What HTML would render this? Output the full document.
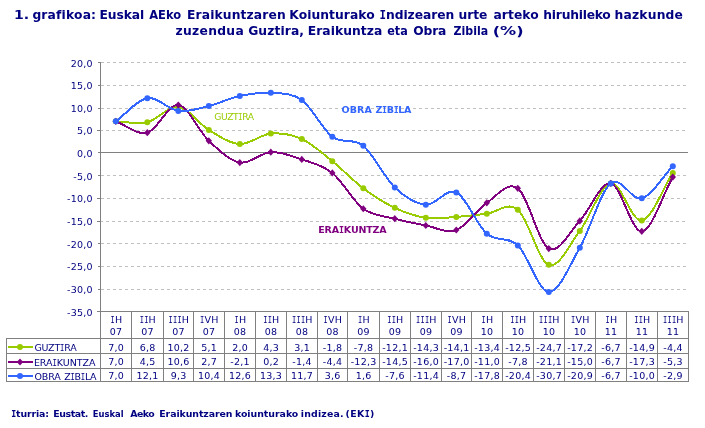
<!DOCTYPE html>
<html lang="eu"><head><meta charset="utf-8"><title>1. grafikoa</title>
<style>html,body{margin:0;padding:0;background:#fff}svg{display:block}text{font-family:"DejaVu Sans","Liberation Sans",sans-serif;fill:#000080}</style>
</head><body>
<svg width="705" height="428" viewBox="0 0 705 428">
<rect width="705" height="428" fill="#ffffff"/>
<g font-weight="bold" font-size="12.3px">
<text y="19"><tspan x="13.91" textLength="15.17" lengthAdjust="spacingAndGlyphs">1.</tspan> <tspan x="32.40" letter-spacing="0.175">grafikoa:</tspan> <tspan x="99.45" letter-spacing="-0.070">Euskal</tspan> <tspan x="149.20" textLength="31.90" lengthAdjust="spacingAndGlyphs">AEko</tspan> <tspan x="187.05" letter-spacing="0.125">Eraikuntzaren</tspan> <tspan x="289.35" letter-spacing="0.050">Koiunturako</tspan> <tspan x="379.50" letter-spacing="-0.061"><tspan font-family='"DejaVu Sans Mono","Liberation Mono",monospace' textLength="6.46" lengthAdjust="spacingAndGlyphs">I</tspan>ndizearen</tspan> <tspan x="458.60" letter-spacing="-0.067">urte</tspan> <tspan x="493.50" letter-spacing="0.050">arteko</tspan> <tspan x="543.30" letter-spacing="-0.233">hiruhileko</tspan> <tspan x="614.60" letter-spacing="0.186">hazkunde</tspan></text>
<text y="35"><tspan x="175.60" letter-spacing="0.300">zuzendua</tspan> <tspan x="248.20" letter-spacing="0.093">Guztira,</tspan> <tspan x="307.75" letter-spacing="0.061">Eraikuntza</tspan> <tspan x="387.23" textLength="20.53" lengthAdjust="spacingAndGlyphs">eta</tspan> <tspan x="413.15" letter-spacing="-0.133">Obra</tspan> <tspan x="453.55" textLength="34.60" lengthAdjust="spacingAndGlyphs">Zibila</tspan> <tspan x="492.69" textLength="30.82" lengthAdjust="spacingAndGlyphs">(%)</tspan></text>
</g>
<g shape-rendering="crispEdges" stroke-width="1" fill="none">
<line x1="101" x2="688" y1="62.5" y2="62.5" stroke="#c0c0c0" stroke-dasharray="3 3"/>
<line x1="101" x2="688" y1="85.5" y2="85.5" stroke="#c0c0c0" stroke-dasharray="3 3"/>
<line x1="101" x2="688" y1="108.5" y2="108.5" stroke="#c0c0c0" stroke-dasharray="3 3"/>
<line x1="100" x2="688" y1="130.5" y2="130.5" stroke="#c0c0c0" stroke-dasharray="3 3"/>
<line x1="101" x2="688" y1="175.5" y2="175.5" stroke="#c0c0c0" stroke-dasharray="3 3"/>
<line x1="101" x2="688" y1="198.5" y2="198.5" stroke="#c0c0c0" stroke-dasharray="3 3"/>
<line x1="100" x2="688" y1="221.5" y2="221.5" stroke="#c0c0c0" stroke-dasharray="3 3"/>
<line x1="101" x2="688" y1="243.5" y2="243.5" stroke="#c0c0c0" stroke-dasharray="3 3"/>
<line x1="101" x2="688" y1="266.5" y2="266.5" stroke="#c0c0c0" stroke-dasharray="3 3"/>
<line x1="101" x2="688" y1="289.5" y2="289.5" stroke="#c0c0c0" stroke-dasharray="3 3"/>
<line x1="98" x2="688" y1="152.5" y2="152.5" stroke="#808080"/>
<line x1="100.5" x2="100.5" y1="62" y2="382" stroke="#808080"/>
<line x1="98" x2="101" y1="62.5" y2="62.5" stroke="#808080"/>
<line x1="98" x2="101" y1="85.5" y2="85.5" stroke="#808080"/>
<line x1="98" x2="101" y1="108.5" y2="108.5" stroke="#808080"/>
<line x1="97" x2="101" y1="130.5" y2="130.5" stroke="#808080"/>
<line x1="98" x2="101" y1="152.5" y2="152.5" stroke="#808080"/>
<line x1="98" x2="101" y1="175.5" y2="175.5" stroke="#808080"/>
<line x1="97" x2="101" y1="198.5" y2="198.5" stroke="#808080"/>
<line x1="97" x2="101" y1="221.5" y2="221.5" stroke="#808080"/>
<line x1="98" x2="101" y1="243.5" y2="243.5" stroke="#808080"/>
<line x1="98" x2="101" y1="266.5" y2="266.5" stroke="#808080"/>
<line x1="98" x2="101" y1="289.5" y2="289.5" stroke="#808080"/>
<line x1="98" x2="101" y1="311.5" y2="311.5" stroke="#808080"/>
<line x1="97" x2="689" y1="311.5" y2="311.5" stroke="#808080"/>
<line x1="6" x2="689" y1="338.5" y2="338.5" stroke="#808080"/>
<line x1="6" x2="689" y1="353.5" y2="353.5" stroke="#808080"/>
<line x1="6" x2="689" y1="368.5" y2="368.5" stroke="#808080"/>
<line x1="6" x2="689" y1="381.5" y2="381.5" stroke="#808080"/>
<line x1="6.5" x2="6.5" y1="338" y2="382" stroke="#808080"/>
<line x1="131.5" x2="131.5" y1="311" y2="382" stroke="#808080"/>
<line x1="163.5" x2="163.5" y1="311" y2="382" stroke="#808080"/>
<line x1="193.5" x2="193.5" y1="311" y2="382" stroke="#808080"/>
<line x1="224.5" x2="224.5" y1="311" y2="382" stroke="#808080"/>
<line x1="255.5" x2="255.5" y1="311" y2="382" stroke="#808080"/>
<line x1="286.5" x2="286.5" y1="311" y2="382" stroke="#808080"/>
<line x1="317.5" x2="317.5" y1="311" y2="382" stroke="#808080"/>
<line x1="347.5" x2="347.5" y1="311" y2="382" stroke="#808080"/>
<line x1="379.5" x2="379.5" y1="311" y2="382" stroke="#808080"/>
<line x1="410.5" x2="410.5" y1="311" y2="382" stroke="#808080"/>
<line x1="441.5" x2="441.5" y1="311" y2="382" stroke="#808080"/>
<line x1="471.5" x2="471.5" y1="311" y2="382" stroke="#808080"/>
<line x1="502.5" x2="502.5" y1="311" y2="382" stroke="#808080"/>
<line x1="533.5" x2="533.5" y1="311" y2="382" stroke="#808080"/>
<line x1="564.5" x2="564.5" y1="311" y2="382" stroke="#808080"/>
<line x1="595.5" x2="595.5" y1="311" y2="382" stroke="#808080"/>
<line x1="626.5" x2="626.5" y1="311" y2="382" stroke="#808080"/>
<line x1="657.5" x2="657.5" y1="311" y2="382" stroke="#808080"/>
<line x1="688.5" x2="688.5" y1="311" y2="382" stroke="#808080"/>
</g>
<g font-size="9.5px" text-anchor="end" letter-spacing="0.25">
<text x="92.9" y="67">20,0</text>
<text x="92.9" y="89">15,0</text>
<text x="92.9" y="112">10,0</text>
<text x="92.9" y="134">5,0</text>
<text x="92.9" y="157">0,0</text>
<text x="92.9" y="180">-5,0</text>
<text x="92.9" y="202">-10,0</text>
<text x="92.9" y="225">-15,0</text>
<text x="92.9" y="248">-20,0</text>
<text x="92.9" y="270">-25,0</text>
<text x="92.9" y="293">-30,0</text>
<text x="92.9" y="316">-35,0</text>
</g>
<path d="M115.80 121.35 C126.30 121.66 136.88 124.67 147.30 122.26 C157.72 119.85 168.05 105.58 178.30 106.87 C188.55 108.15 198.55 123.77 208.80 129.96 C219.05 136.14 229.47 143.39 239.80 143.99 C250.13 144.59 260.47 134.41 270.80 133.58 C281.13 132.75 291.55 134.41 301.80 139.01 C312.05 143.61 322.05 152.97 332.30 161.19 C342.55 169.42 352.88 180.59 363.30 188.36 C373.72 196.13 384.38 202.92 394.80 207.83 C405.22 212.73 415.55 216.28 425.80 217.79 C436.05 219.29 446.13 217.56 456.30 216.88 C466.47 216.20 476.55 214.92 486.80 213.71 C497.05 212.50 507.47 201.11 517.80 209.64 C528.13 218.16 538.47 261.32 548.80 264.87 C559.13 268.42 569.47 244.50 579.80 230.91 C590.13 217.33 600.47 185.11 610.80 183.38 C621.13 181.64 631.47 222.24 641.80 220.50 C652.13 218.77 662.47 188.81 672.80 172.97" fill="none" stroke="#99cc00" stroke-width="2" stroke-linejoin="round" stroke-linecap="round" shape-rendering="crispEdges"/>
<circle cx="115.80" cy="121.35" r="3" fill="#99cc00"/>
<circle cx="147.30" cy="122.26" r="3" fill="#99cc00"/>
<circle cx="178.30" cy="106.87" r="3" fill="#99cc00"/>
<circle cx="208.80" cy="129.96" r="3" fill="#99cc00"/>
<circle cx="239.80" cy="143.99" r="3" fill="#99cc00"/>
<circle cx="270.80" cy="133.58" r="3" fill="#99cc00"/>
<circle cx="301.80" cy="139.01" r="3" fill="#99cc00"/>
<circle cx="332.30" cy="161.19" r="3" fill="#99cc00"/>
<circle cx="363.30" cy="188.36" r="3" fill="#99cc00"/>
<circle cx="394.80" cy="207.83" r="3" fill="#99cc00"/>
<circle cx="425.80" cy="217.79" r="3" fill="#99cc00"/>
<circle cx="456.30" cy="216.88" r="3" fill="#99cc00"/>
<circle cx="486.80" cy="213.71" r="3" fill="#99cc00"/>
<circle cx="517.80" cy="209.64" r="3" fill="#99cc00"/>
<circle cx="548.80" cy="264.87" r="3" fill="#99cc00"/>
<circle cx="579.80" cy="230.91" r="3" fill="#99cc00"/>
<circle cx="610.80" cy="183.38" r="3" fill="#99cc00"/>
<circle cx="641.80" cy="220.50" r="3" fill="#99cc00"/>
<circle cx="672.80" cy="172.97" r="3" fill="#99cc00"/>
<path d="M115.80 121.35 C126.30 125.13 136.88 135.39 147.30 132.67 C157.72 129.96 168.05 103.70 178.30 105.06 C188.55 106.41 198.55 131.24 208.80 140.82 C219.05 150.40 229.47 160.67 239.80 162.55 C250.13 164.44 260.47 152.67 270.80 152.14 C281.13 151.61 291.55 155.91 301.80 159.38 C312.05 162.85 322.05 164.74 332.30 172.97 C342.55 181.19 352.88 201.11 363.30 208.73 C373.72 216.35 384.38 215.90 394.80 218.69 C405.22 221.48 415.55 223.60 425.80 225.48 C436.05 227.37 446.13 233.78 456.30 230.01 C466.47 226.24 476.55 209.79 486.80 202.85 C497.05 195.90 507.47 180.74 517.80 188.36 C528.13 195.98 538.47 243.14 548.80 248.57 C559.13 254.00 569.47 231.82 579.80 220.95 C590.13 210.09 600.47 181.64 610.80 183.38 C621.13 185.11 631.47 232.42 641.80 231.37 C652.13 230.31 662.47 195.15 672.80 177.04" fill="none" stroke="#800080" stroke-width="2" stroke-linejoin="round" stroke-linecap="round" shape-rendering="crispEdges"/>
<path d="M115.80 117.75 L119.00 121.35 L115.80 124.95 L112.60 121.35Z" fill="#800080"/>
<path d="M147.30 129.07 L150.50 132.67 L147.30 136.27 L144.10 132.67Z" fill="#800080"/>
<path d="M178.30 101.46 L181.50 105.06 L178.30 108.66 L175.10 105.06Z" fill="#800080"/>
<path d="M208.80 137.22 L212.00 140.82 L208.80 144.42 L205.60 140.82Z" fill="#800080"/>
<path d="M239.80 158.95 L243.00 162.55 L239.80 166.15 L236.60 162.55Z" fill="#800080"/>
<path d="M270.80 148.54 L274.00 152.14 L270.80 155.74 L267.60 152.14Z" fill="#800080"/>
<path d="M301.80 155.78 L305.00 159.38 L301.80 162.98 L298.60 159.38Z" fill="#800080"/>
<path d="M332.30 169.37 L335.50 172.97 L332.30 176.57 L329.10 172.97Z" fill="#800080"/>
<path d="M363.30 205.13 L366.50 208.73 L363.30 212.33 L360.10 208.73Z" fill="#800080"/>
<path d="M394.80 215.09 L398.00 218.69 L394.80 222.29 L391.60 218.69Z" fill="#800080"/>
<path d="M425.80 221.88 L429.00 225.48 L425.80 229.08 L422.60 225.48Z" fill="#800080"/>
<path d="M456.30 226.41 L459.50 230.01 L456.30 233.61 L453.10 230.01Z" fill="#800080"/>
<path d="M486.80 199.25 L490.00 202.85 L486.80 206.45 L483.60 202.85Z" fill="#800080"/>
<path d="M517.80 184.76 L521.00 188.36 L517.80 191.96 L514.60 188.36Z" fill="#800080"/>
<path d="M548.80 244.97 L552.00 248.57 L548.80 252.17 L545.60 248.57Z" fill="#800080"/>
<path d="M579.80 217.35 L583.00 220.95 L579.80 224.55 L576.60 220.95Z" fill="#800080"/>
<path d="M610.80 179.78 L614.00 183.38 L610.80 186.98 L607.60 183.38Z" fill="#800080"/>
<path d="M641.80 227.77 L645.00 231.37 L641.80 234.97 L638.60 231.37Z" fill="#800080"/>
<path d="M672.80 173.44 L676.00 177.04 L672.80 180.64 L669.60 177.04Z" fill="#800080"/>
<path d="M115.80 121.35 C126.30 113.66 136.88 100.00 147.30 98.27 C157.72 96.53 168.05 109.66 178.30 110.94 C188.55 112.22 198.55 108.45 208.80 105.96 C219.05 103.47 229.47 98.19 239.80 96.00 C250.13 93.81 260.47 92.15 270.80 92.83 C281.13 93.51 291.55 92.76 301.80 100.08 C312.05 107.40 322.05 129.13 332.30 136.75 C342.55 144.37 352.88 137.35 363.30 145.80 C373.72 154.25 384.38 177.64 394.80 187.45 C405.22 197.26 415.55 203.83 425.80 204.66 C436.05 205.49 446.13 187.60 456.30 192.43 C466.47 197.26 476.55 224.80 486.80 233.63 C497.05 242.46 507.47 235.67 517.80 245.40 C528.13 255.14 538.47 291.66 548.80 292.03 C559.13 292.41 569.47 265.77 579.80 247.67 C590.13 229.56 600.47 191.60 610.80 183.38 C621.13 175.15 631.47 201.19 641.80 198.32 C652.13 195.45 662.47 176.89 672.80 166.17" fill="none" stroke="#3366ff" stroke-width="2" stroke-linejoin="round" stroke-linecap="round" shape-rendering="crispEdges"/>
<circle cx="115.80" cy="121.35" r="3" fill="#3366ff"/>
<circle cx="147.30" cy="98.27" r="3" fill="#3366ff"/>
<circle cx="178.30" cy="110.94" r="3" fill="#3366ff"/>
<circle cx="208.80" cy="105.96" r="3" fill="#3366ff"/>
<circle cx="239.80" cy="96.00" r="3" fill="#3366ff"/>
<circle cx="270.80" cy="92.83" r="3" fill="#3366ff"/>
<circle cx="301.80" cy="100.08" r="3" fill="#3366ff"/>
<circle cx="332.30" cy="136.75" r="3" fill="#3366ff"/>
<circle cx="363.30" cy="145.80" r="3" fill="#3366ff"/>
<circle cx="394.80" cy="187.45" r="3" fill="#3366ff"/>
<circle cx="425.80" cy="204.66" r="3" fill="#3366ff"/>
<circle cx="456.30" cy="192.43" r="3" fill="#3366ff"/>
<circle cx="486.80" cy="233.63" r="3" fill="#3366ff"/>
<circle cx="517.80" cy="245.40" r="3" fill="#3366ff"/>
<circle cx="548.80" cy="292.03" r="3" fill="#3366ff"/>
<circle cx="579.80" cy="247.67" r="3" fill="#3366ff"/>
<circle cx="610.80" cy="183.38" r="3" fill="#3366ff"/>
<circle cx="641.80" cy="198.32" r="3" fill="#3366ff"/>
<circle cx="672.80" cy="166.17" r="3" fill="#3366ff"/>
<text y="120" font-size="9.2px" style="fill:#99cc00"><tspan x="214.30" letter-spacing="-0.400">GUZT<tspan font-family='"DejaVu Sans Mono","Liberation Mono",monospace' textLength="3.86" lengthAdjust="spacingAndGlyphs">I</tspan>RA</tspan></text>
<text y="113" font-size="9.5px" font-weight="bold" style="fill:#3366ff"><tspan x="341.40" letter-spacing="0.167">OBRA</tspan> <tspan x="375.50" letter-spacing="-0.340">Z<tspan font-family='"DejaVu Sans Mono","Liberation Mono",monospace' textLength="4.70" lengthAdjust="spacingAndGlyphs">I</tspan>B<tspan font-family='"DejaVu Sans Mono","Liberation Mono",monospace' textLength="4.70" lengthAdjust="spacingAndGlyphs">I</tspan>LA</tspan></text>
<text y="233" font-size="9.5px" font-weight="bold" style="fill:#800080"><tspan x="318.25" letter-spacing="-0.144">ERA<tspan font-family='"DejaVu Sans Mono","Liberation Mono",monospace' textLength="4.89" lengthAdjust="spacingAndGlyphs">I</tspan>KUNTZA</tspan></text>
<g font-size="9.5px" text-anchor="middle" letter-spacing="0.25">
<text x="116.4" y="323"><tspan font-family='"DejaVu Sans Mono","Liberation Mono",monospace' textLength="4.40" lengthAdjust="spacingAndGlyphs">I</tspan>H</text>
<text x="116.1" y="335">07</text>
<text x="147.9" y="323"><tspan font-family='"DejaVu Sans Mono","Liberation Mono",monospace' textLength="8.80" lengthAdjust="spacingAndGlyphs">II</tspan>H</text>
<text x="147.6" y="335">07</text>
<text x="178.9" y="323"><tspan font-family='"DejaVu Sans Mono","Liberation Mono",monospace' textLength="13.20" lengthAdjust="spacingAndGlyphs">III</tspan>H</text>
<text x="178.6" y="335">07</text>
<text x="209.4" y="323"><tspan font-family='"DejaVu Sans Mono","Liberation Mono",monospace' textLength="4.40" lengthAdjust="spacingAndGlyphs">I</tspan>VH</text>
<text x="209.1" y="335">07</text>
<text x="240.4" y="323"><tspan font-family='"DejaVu Sans Mono","Liberation Mono",monospace' textLength="4.40" lengthAdjust="spacingAndGlyphs">I</tspan>H</text>
<text x="240.1" y="335">08</text>
<text x="271.4" y="323"><tspan font-family='"DejaVu Sans Mono","Liberation Mono",monospace' textLength="8.80" lengthAdjust="spacingAndGlyphs">II</tspan>H</text>
<text x="271.1" y="335">08</text>
<text x="302.4" y="323"><tspan font-family='"DejaVu Sans Mono","Liberation Mono",monospace' textLength="13.20" lengthAdjust="spacingAndGlyphs">III</tspan>H</text>
<text x="302.1" y="335">08</text>
<text x="332.9" y="323"><tspan font-family='"DejaVu Sans Mono","Liberation Mono",monospace' textLength="4.40" lengthAdjust="spacingAndGlyphs">I</tspan>VH</text>
<text x="332.6" y="335">08</text>
<text x="363.9" y="323"><tspan font-family='"DejaVu Sans Mono","Liberation Mono",monospace' textLength="4.40" lengthAdjust="spacingAndGlyphs">I</tspan>H</text>
<text x="363.6" y="335">09</text>
<text x="395.4" y="323"><tspan font-family='"DejaVu Sans Mono","Liberation Mono",monospace' textLength="8.80" lengthAdjust="spacingAndGlyphs">II</tspan>H</text>
<text x="395.1" y="335">09</text>
<text x="426.4" y="323"><tspan font-family='"DejaVu Sans Mono","Liberation Mono",monospace' textLength="13.20" lengthAdjust="spacingAndGlyphs">III</tspan>H</text>
<text x="426.1" y="335">09</text>
<text x="456.9" y="323"><tspan font-family='"DejaVu Sans Mono","Liberation Mono",monospace' textLength="4.40" lengthAdjust="spacingAndGlyphs">I</tspan>VH</text>
<text x="456.6" y="335">09</text>
<text x="487.4" y="323"><tspan font-family='"DejaVu Sans Mono","Liberation Mono",monospace' textLength="4.40" lengthAdjust="spacingAndGlyphs">I</tspan>H</text>
<text x="487.1" y="335">10</text>
<text x="518.4" y="323"><tspan font-family='"DejaVu Sans Mono","Liberation Mono",monospace' textLength="8.80" lengthAdjust="spacingAndGlyphs">II</tspan>H</text>
<text x="518.1" y="335">10</text>
<text x="549.4" y="323"><tspan font-family='"DejaVu Sans Mono","Liberation Mono",monospace' textLength="13.20" lengthAdjust="spacingAndGlyphs">III</tspan>H</text>
<text x="549.1" y="335">10</text>
<text x="580.4" y="323"><tspan font-family='"DejaVu Sans Mono","Liberation Mono",monospace' textLength="4.40" lengthAdjust="spacingAndGlyphs">I</tspan>VH</text>
<text x="580.1" y="335">10</text>
<text x="611.4" y="323"><tspan font-family='"DejaVu Sans Mono","Liberation Mono",monospace' textLength="4.40" lengthAdjust="spacingAndGlyphs">I</tspan>H</text>
<text x="611.1" y="335">11</text>
<text x="642.4" y="323"><tspan font-family='"DejaVu Sans Mono","Liberation Mono",monospace' textLength="8.80" lengthAdjust="spacingAndGlyphs">II</tspan>H</text>
<text x="642.1" y="335">11</text>
<text x="673.4" y="323"><tspan font-family='"DejaVu Sans Mono","Liberation Mono",monospace' textLength="13.20" lengthAdjust="spacingAndGlyphs">III</tspan>H</text>
<text x="673.1" y="335">11</text>
<text x="116.1" y="351">7,0</text>
<text x="147.6" y="351">6,8</text>
<text x="178.6" y="351">10,2</text>
<text x="209.1" y="351">5,1</text>
<text x="240.1" y="351">2,0</text>
<text x="271.1" y="351">4,3</text>
<text x="302.1" y="351">3,1</text>
<text x="332.6" y="351">-1,8</text>
<text x="363.6" y="351">-7,8</text>
<text x="395.1" y="351">-12,1</text>
<text x="426.1" y="351">-14,3</text>
<text x="456.6" y="351">-14,1</text>
<text x="487.1" y="351">-13,4</text>
<text x="518.1" y="351">-12,5</text>
<text x="549.1" y="351">-24,7</text>
<text x="580.1" y="351">-17,2</text>
<text x="611.1" y="351">-6,7</text>
<text x="642.1" y="351">-14,9</text>
<text x="673.1" y="351">-4,4</text>
<text x="116.1" y="365">7,0</text>
<text x="147.6" y="365">4,5</text>
<text x="178.6" y="365">10,6</text>
<text x="209.1" y="365">2,7</text>
<text x="240.1" y="365">-2,1</text>
<text x="271.1" y="365">0,2</text>
<text x="302.1" y="365">-1,4</text>
<text x="332.6" y="365">-4,4</text>
<text x="363.6" y="365">-12,3</text>
<text x="395.1" y="365">-14,5</text>
<text x="426.1" y="365">-16,0</text>
<text x="456.6" y="365">-17,0</text>
<text x="487.1" y="365">-11,0</text>
<text x="518.1" y="365">-7,8</text>
<text x="549.1" y="365">-21,1</text>
<text x="580.1" y="365">-15,0</text>
<text x="611.1" y="365">-6,7</text>
<text x="642.1" y="365">-17,3</text>
<text x="673.1" y="365">-5,3</text>
<text x="116.1" y="379">7,0</text>
<text x="147.6" y="379">12,1</text>
<text x="178.6" y="379">9,3</text>
<text x="209.1" y="379">10,4</text>
<text x="240.1" y="379">12,6</text>
<text x="271.1" y="379">13,3</text>
<text x="302.1" y="379">11,7</text>
<text x="332.6" y="379">3,6</text>
<text x="363.6" y="379">1,6</text>
<text x="395.1" y="379">-7,6</text>
<text x="426.1" y="379">-11,4</text>
<text x="456.6" y="379">-8,7</text>
<text x="487.1" y="379">-17,8</text>
<text x="518.1" y="379">-20,4</text>
<text x="549.1" y="379">-30,7</text>
<text x="580.1" y="379">-20,9</text>
<text x="611.1" y="379">-6,7</text>
<text x="642.1" y="379">-10,0</text>
<text x="673.1" y="379">-2,9</text>
</g>
<line x1="8" x2="33" y1="347" y2="347" stroke="#99cc00" stroke-width="2"/>
<circle cx="20.00" cy="347.00" r="3" fill="#99cc00"/>
<text y="351" font-size="9.5px"><tspan x="34.40" letter-spacing="-0.217">GUZT<tspan font-family='"DejaVu Sans Mono","Liberation Mono",monospace' textLength="4.18" lengthAdjust="spacingAndGlyphs">I</tspan>RA</tspan></text>
<line x1="8" x2="33" y1="362" y2="362" stroke="#800080" stroke-width="2"/>
<path d="M20.00 358.40 L23.20 362.00 L20.00 365.60 L16.80 362.00Z" fill="#800080"/>
<text y="366" font-size="9.5px"><tspan x="33.90" letter-spacing="-0.039">ERA<tspan font-family='"DejaVu Sans Mono","Liberation Mono",monospace' textLength="4.36" lengthAdjust="spacingAndGlyphs">I</tspan>KUNTZA</tspan></text>
<line x1="8" x2="33" y1="376" y2="376" stroke="#3366ff" stroke-width="2"/>
<circle cx="20.00" cy="376.00" r="3" fill="#3366ff"/>
<text y="380" font-size="9.5px"><tspan x="34.40" letter-spacing="-0.100">OBRA</tspan> <tspan x="64.30" letter-spacing="-0.310">Z<tspan font-family='"DejaVu Sans Mono","Liberation Mono",monospace' textLength="4.09" lengthAdjust="spacingAndGlyphs">I</tspan>B<tspan font-family='"DejaVu Sans Mono","Liberation Mono",monospace' textLength="4.09" lengthAdjust="spacingAndGlyphs">I</tspan>LA</tspan></text>
<text y="417" font-size="9.4px" font-weight="bold"><tspan x="11.25" letter-spacing="-0.143"><tspan font-family='"DejaVu Sans Mono","Liberation Mono",monospace' textLength="4.84" lengthAdjust="spacingAndGlyphs">I</tspan>turria:</tspan> <tspan x="53.15" letter-spacing="-0.375">Eustat.</tspan> <tspan x="92.83" textLength="30.84" lengthAdjust="spacingAndGlyphs">Euskal</tspan> <tspan x="130.20" letter-spacing="-0.483">Aeko</tspan> <tspan x="159.25" letter-spacing="-0.075">Eraikuntzaren</tspan> <tspan x="234.95" letter-spacing="-0.015">koiunturako</tspan> <tspan x="300.75" letter-spacing="0.179">indizea.</tspan> <tspan x="345.45" letter-spacing="0.413">(EK<tspan font-family='"DejaVu Sans Mono","Liberation Mono",monospace' textLength="5.39" lengthAdjust="spacingAndGlyphs">I</tspan>)</tspan></text>
</svg></body></html>
